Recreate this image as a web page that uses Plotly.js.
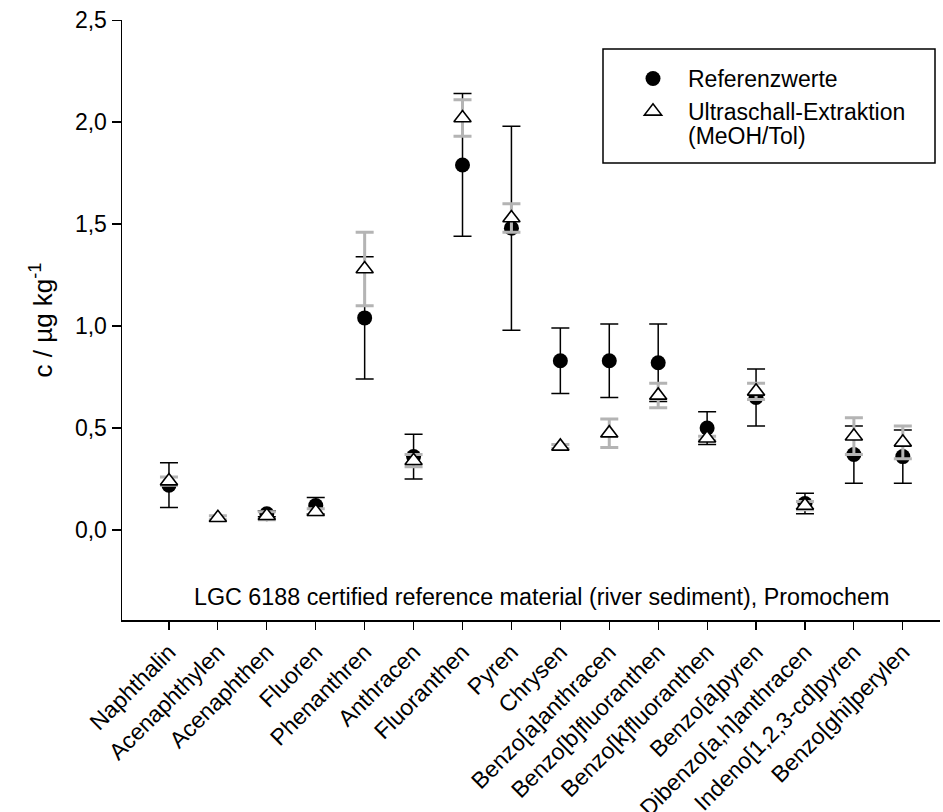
<!DOCTYPE html>
<html>
<head>
<meta charset="utf-8">
<script src="https://cdn.plot.ly/plotly-3.0.1.min.js"></script>
<style>html,body{margin:0;padding:0;background:#fff;}#chart{width:943px;height:812px;}</style>
</head>
<body>
<div id="chart"></div>
<script>
const categories = ["Naphthalin","Acenaphthylen","Acenaphthen","Fluoren","Phenanthren","Anthracen","Fluoranthen","Pyren","Chrysen","Benzo[a]anthracen","Benzo[b]fluoranthen","Benzo[k]fluoranthen","Benzo[a]pyren","Dibenzo[a,h]anthracen","Indeno[1,2,3-cd]pyren","Benzo[ghi]perylen"];
const refValues = [0.22, null, 0.08, 0.12, 1.04, 0.36, 1.79, 1.48, 0.83, 0.83, 0.82, 0.50, 0.65, 0.13, 0.37, 0.36];
const refErrors = [0.11, null, 0.015, 0.04, 0.30, 0.11, 0.35, 0.50, 0.16, 0.18, 0.19, 0.08, 0.14, 0.05, 0.14, 0.13];
const usValues = [0.24, 0.06, 0.07, 0.09, 1.28, 0.34, 2.02, 1.53, 0.41, 0.475, 0.66, 0.45, 0.68, 0.12, 0.46, 0.43];
const usErrors = [0.02, 0.01, 0.02, 0.015, 0.18, 0.03, 0.09, 0.07, 0.01, 0.07, 0.06, 0.01, 0.04, 0.02, 0.09, 0.08];
const yTickVals = [0, 0.5, 1.0, 1.5, 2.0, 2.5];

const font = "Liberation Sans, Arial, sans-serif";

const traces = [
  {
    type: "scatter", mode: "markers", name: "Referenzwerte",
    x: categories, y: refValues,
    marker: {symbol: "circle", size: 15, color: "#000"},
    error_y: {type: "data", array: refErrors, visible: true, color: "#000", thickness: 1.5, width: 9}
  },
  {
    type: "scatter", mode: "markers", name: "Ultraschall-Extraktion",
    x: categories, y: usValues,
    marker: {symbol: "triangle-up", size: 15, color: "#fff", line: {color: "#000", width: 1.6}},
    error_y: {type: "data", array: usErrors, visible: true, color: "#b4b4b4", thickness: 3, width: 9}
  }
];

const layout = {
  width: 943, height: 812,
  margin: {l: 122, r: 3, t: 20, b: 192},
  paper_bgcolor: "#fff", plot_bgcolor: "#fff",
  separators: ", ",
  font: {family: font, size: 23, color: "#000"},
  showlegend: true,
  legend: {
    x: (618 - 122) / 818, xanchor: "left",
    y: (620 - 57) / 600, yanchor: "top",
    bgcolor: "rgba(0,0,0,0)", borderwidth: 0,
    font: {family: font, size: 23, color: "#000"},
    itemwidth: 60, valign: "top", tracegroupgap: 0
  },
  xaxis: {
    type: "category",
    range: [-0.96, 15.76],
    showline: true, linecolor: "#000", linewidth: 1.5,
    ticks: "outside", ticklen: 8, tickwidth: 1.2, tickcolor: "#000",
    tickangle: -45,
    tickfont: {family: font, size: 23, color: "#000"},
    showgrid: false, zeroline: false, fixedrange: true
  },
  yaxis: {
    range: [-0.441, 2.5005],
    tickvals: yTickVals, tickformat: ".1f",
    showline: true, linecolor: "#000", linewidth: 1.5,
    ticks: "outside", ticklen: 9, tickwidth: 1.2, tickcolor: "#000",
    tickfont: {family: font, size: 23, color: "#000"},
    showgrid: false, zeroline: false,
    title: {text: "c / µg kg<sup>-1</sup>", font: {family: font, size: 26, color: "#000"}, standoff: 15}
  },
  shapes: [
    {type: "rect", xref: "paper", yref: "paper",
     x0: (603 - 122) / 818, x1: (935 - 122) / 818,
     y0: (620 - 163) / 600, y1: (620 - 49) / 600,
     line: {color: "#000", width: 1.5}, fillcolor: "rgba(0,0,0,0)"}
  ],
  annotations: [
    {xref: "paper", yref: "paper", x: (541 - 122) / 818, y: (620 - 597) / 600,
     text: "LGC 6188 certified reference material (river sediment), Promochem",
     showarrow: false, xanchor: "center", yanchor: "middle",
     font: {family: font, size: 23.3, color: "#000"}},
    {xref: "paper", yref: "paper", x: (688 - 122) / 818, y: (620 - 136) / 600,
     text: "(MeOH/Tol)",
     showarrow: false, xanchor: "left", yanchor: "middle", xshift: -2,
     font: {family: font, size: 23, color: "#000"}}
  ]
};

Plotly.newPlot("chart", traces, layout, {displayModeBar: false, staticPlot: true});
</script>
</body>
</html>
